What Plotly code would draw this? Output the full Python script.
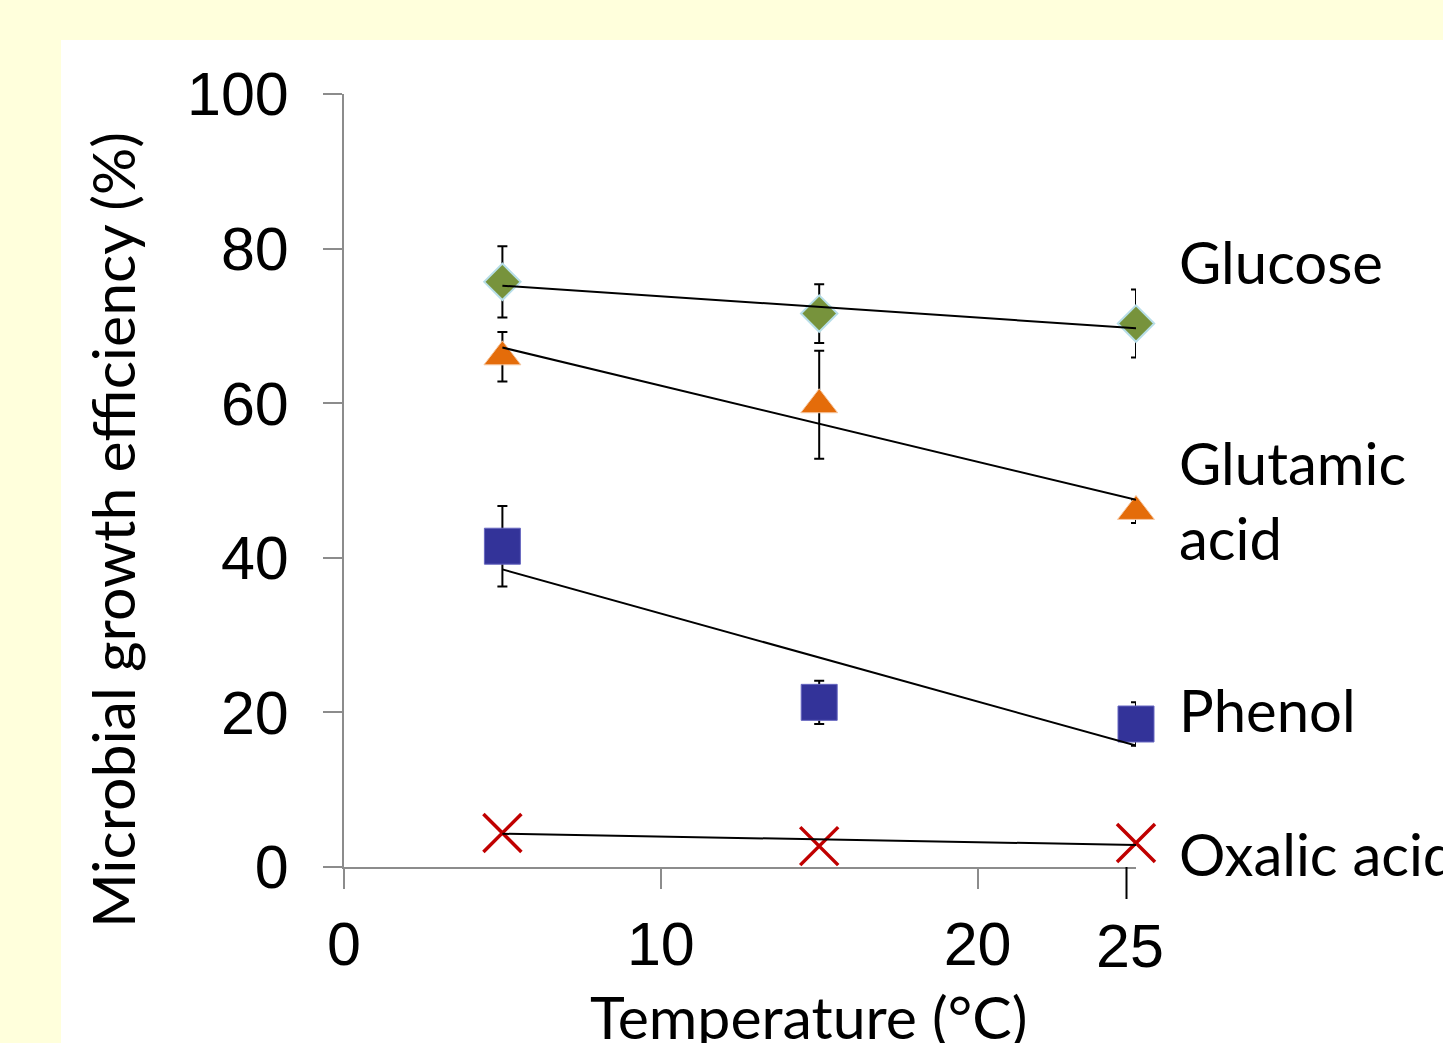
import plotly.graph_objects as go

# ---- data ----
temperature = [5, 15, 25]

glucose = [75.7, 71.6, 70.3]
glucose_err = [4.6, 3.8, 4.4]

glutamic = [66.0, 59.8, 46.0]
glutamic_err = [3.2, 7.0, 1.5]

phenol = [41.5, 21.3, 18.5]
phenol_err = [5.2, 2.8, 2.8]

oxalic = [4.4, 2.7, 3.1]

# trend lines (start at 5 °C, end at 25 °C)
trend_x = [5, 25]
glucose_trend = [75.2, 69.7]
glutamic_trend = [67.2, 47.5]
phenol_trend = [38.5, 15.7]
oxalic_trend = [4.3, 2.85]

x_tick_vals = [0, 10, 20]
x_tick_text = ["0", "10", "20"]
extra_x_tick = 24.7
extra_x_label = "25"
y_tick_vals = [0, 20, 40, 60, 80, 100]

series_labels = ["Glucose", "Glutamic<br>acid", "Phenol", "Oxalic acid"]
label_y = [78.3, 47.5, 20.4, 1.7]

# ---- figure ----
W, H = 1443, 1043
L, R, T, B = 344, 1443 - 1136, 94, 1043 - 867
pw, ph = W - L - R, H - T - B

num_font = "Liberation Sans, Arial, sans-serif"
txt_font = "Lato, Carlito, Calibri, sans-serif"
axis_grey = "#8C8C8C"

fig = go.Figure()

err_style = dict(type="data", visible=True, color="black", thickness=2, width=5)

fig.add_trace(go.Scatter(
    x=temperature, y=glucose, mode="markers", cliponaxis=False,
    marker=dict(symbol="diamond", size=28, color="#77933C",
                line=dict(color="#B7DEE8", width=2)),
    error_y=dict(array=glucose_err, **err_style), showlegend=False))

fig.add_trace(go.Scatter(
    x=temperature, y=glutamic, mode="markers", cliponaxis=False,
    marker=dict(symbol="triangle-up", size=32, color="#E46C0A",
                line=dict(color="#F6C9A4", width=1)),
    error_y=dict(array=glutamic_err, **err_style), showlegend=False))

fig.add_trace(go.Scatter(
    x=temperature, y=phenol, mode="markers", cliponaxis=False,
    marker=dict(symbol="square", size=36, color="#333399",
                line=dict(color="#6666C0", width=1)),
    error_y=dict(array=phenol_err, **err_style), showlegend=False))

fig.add_trace(go.Scatter(
    x=temperature, y=oxalic, mode="markers", cliponaxis=False,
    marker=dict(symbol="x-thin", size=38, color="#C00000",
                line=dict(color="#C00000", width=3.5)),
    showlegend=False))

for tr in [glucose_trend, glutamic_trend, phenol_trend, oxalic_trend]:
    fig.add_trace(go.Scatter(x=trend_x, y=tr, mode="lines", cliponaxis=False,
                             line=dict(color="black", width=2),
                             showlegend=False, hoverinfo="skip"))

# white panel behind the chart
fig.add_shape(type="rect", xref="paper", yref="paper",
              x0=(61 - L) / pw, x1=(W - L) / pw + 0.01,
              y0=-(B + 5) / ph, y1=(H - B - 40) / ph,
              fillcolor="white", line=dict(width=0), layer="below")

# hand-drawn 25 tick
fig.add_shape(type="line", xref="x", yref="paper",
              x0=extra_x_tick, x1=extra_x_tick, y0=0, y1=-32 / ph,
              line=dict(color="black", width=2))
fig.add_annotation(x=extra_x_tick, xref="x", y=-79 / ph, yref="paper",
                   xshift=3,
                   text=extra_x_label, showarrow=False,
                   font=dict(family=num_font, size=61, color="black"),
                   xanchor="center", yanchor="middle")

# series labels
for txt, yv in zip(series_labels, label_y):
    fig.add_annotation(x=(1177 - L) / pw, xref="paper", y=yv, yref="y",
                       text=txt, showarrow=False, align="left",
                       font=dict(family=txt_font, size=58, color="black"),
                       xanchor="left", yanchor="middle")

# axis titles
fig.add_annotation(x=(808 - L) / pw, xref="paper", y=-(1017 - 867) / ph, yref="paper",
                   text="Temperature (°C)", showarrow=False,
                   font=dict(family=txt_font, size=59, color="black"),
                   xanchor="center", yanchor="middle")
fig.add_annotation(x=(112 - L) / pw, xref="paper", y=(867 - 530) / ph, yref="paper",
                   text="Microbial growth efficiency (%)", showarrow=False, textangle=-90,
                   font=dict(family=txt_font, size=59, color="black"),
                   xanchor="center", yanchor="middle")

fig.update_layout(
    width=W, height=H,
    margin=dict(l=L, r=R, t=T, b=B, pad=0),
    paper_bgcolor="#FFFFDC",
    plot_bgcolor="rgba(0,0,0,0)",
    xaxis=dict(range=[0, 25], tickvals=x_tick_vals, ticktext=x_tick_text,
               showline=True, linecolor=axis_grey, linewidth=2,
               ticks="outside", ticklen=20, tickwidth=2, tickcolor=axis_grey,
               showgrid=False, zeroline=False, ticklabelstandoff=3,
               tickfont=dict(family=num_font, size=61, color="black")),
    yaxis=dict(range=[0, 100], tickvals=y_tick_vals,
               showline=True, linecolor=axis_grey, linewidth=2,
               ticks="outside", ticklen=19, tickwidth=2, tickcolor=axis_grey,
               showgrid=False, zeroline=False, ticklabelstandoff=22,
               tickfont=dict(family=num_font, size=61, color="black")),
)

fig.write_html("out.html", config={"displayModeBar": False},
               post_script="document.body.style.margin='0px';document.body.style.overflow='hidden';")
